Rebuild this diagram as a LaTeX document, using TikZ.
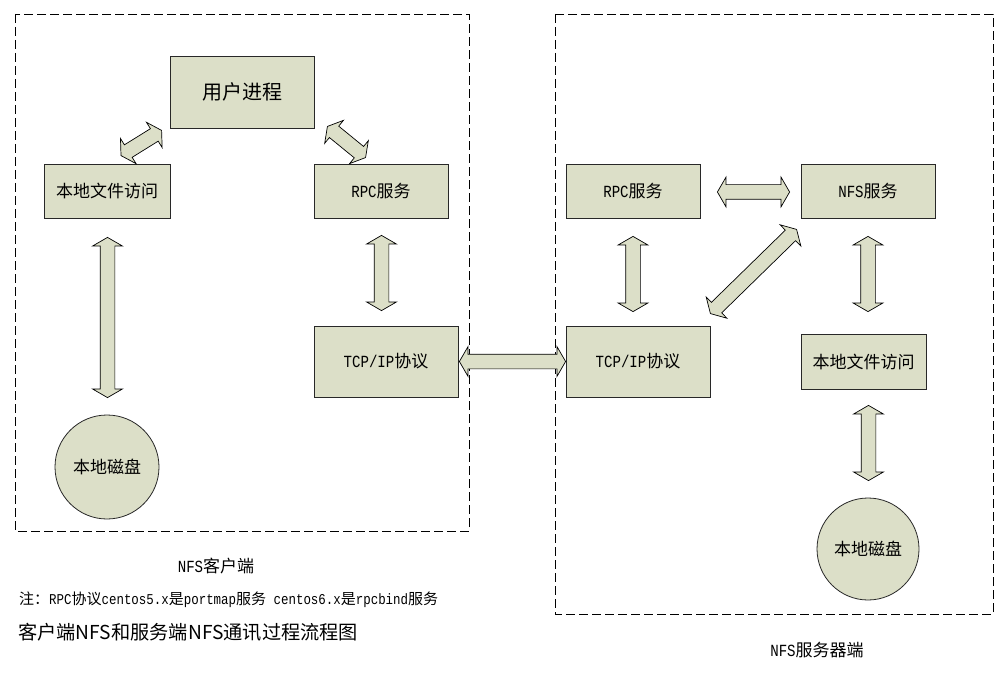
\documentclass[tikz,border=0pt]{standalone}
\usepackage{fontspec}
\setmainfont{Noto Sans CJK SC}
\newfontfamily\lat[FakeStretch=0.83]{Liberation Mono}
\usetikzlibrary{shapes.arrows,calc}
\definecolor{boxfill}{RGB}{220,223,200}
\definecolor{boxline}{RGB}{40,40,40}
\newcommand\blockarrow[2]{\path let \p1=(#1), \p2=(#2), \n1={veclen(\x2-\x1,\y2-\y1)} in (\p1) -- (\p2) node[barrow, midway, sloped, minimum height=\n1]{};}
\begin{document}
\begin{tikzpicture}[x=1pt,y=-1pt,
  box/.style={draw=boxline, fill=boxfill, line width=0.8pt, inner sep=0pt, font=\fontsize{17}{20}\selectfont},
  disk/.style={circle, draw=boxline, fill=boxfill, line width=0.8pt, inner sep=0pt, font=\fontsize{17}{20}\selectfont},
  frame/.style={draw=black, line width=0.7pt, dash pattern=on 9pt off 4pt},
  barrow/.style={double arrow, draw=black, fill=boxfill, line width=0.7pt, inner sep=0pt, text height=14pt, text depth=0pt, text width=0pt, minimum width=0pt, double arrow head extend=7.5pt, double arrow tip angle=120},
  lbl/.style={inner sep=0pt, font=\fontsize{17}{20}\selectfont},
]
\useasboundingbox[fill=white] (0,0) rectangle (1008,676);
% frames
\draw[frame] (15,14) rectangle (469,531);
\draw[frame] (555,14) rectangle (993,614);
% client nodes
\node[box, minimum width=144, minimum height=72, font=\fontsize{20}{24}\selectfont] (cu) at (242,92) {用户进程};
\node[box, minimum width=126, minimum height=54] (clfa) at (107,191) {本地文件访问};
\node[box, minimum width=134, minimum height=54] (crpc) at (381,191) {{\lat RPC}服务};
\node[box, minimum width=144, minimum height=71] (ctcp) at (386,361.5) {{\lat TCP/IP}协议};
\node[disk, minimum size=104] (cdisk) at (107,467) {本地磁盘};
% server nodes
\node[box, minimum width=134, minimum height=54] (srpc) at (633,191) {{\lat RPC}服务};
\node[box, minimum width=134, minimum height=54] (snfs) at (868,191) {{\lat NFS}服务};
\node[box, minimum width=144, minimum height=71] (stcp) at (638,361.5) {{\lat TCP/IP}协议};
\node[box, minimum width=125, minimum height=55] (slfa) at (863.5,361.5) {本地文件访问};
\node[disk, minimum size=102] (sdisk) at (868,549) {本地磁盘};
% arrows
\blockarrow{$(clfa.north)+(14,-8)$}{$(cu.south west)+(-8,2)$}
\blockarrow{$(cu.south east)+(13,-2)$}{$(crpc.north west)+(52,-6)$}
\blockarrow{$(clfa.south)+(0.5,19)$}{$(cdisk.north)+(0.5,-17)$}
\blockarrow{$(crpc.south)+(0.5,17)$}{$(ctcp.north)+(-4.5,-15)$}
\blockarrow{$(ctcp.east)+(1,0)$}{$(stcp.west)$}
\blockarrow{$(srpc.east)+(17,1)$}{$(snfs.west)+(-11,1)$}
\blockarrow{$(srpc.south)+(0,18)$}{$(stcp.north)+(-5,-14)$}
\blockarrow{$(stcp.north east)+(0,-12)$}{$(snfs.south west)+(-4,11)$}
\blockarrow{$(snfs.south)+(0,18)$}{$(slfa.north)+(4.5,-22)$}
\blockarrow{$(slfa.south)+(5,16)$}{$(sdisk.north)+(0.5,-17)$}
% labels
\node[lbl] (clabel) at (216,566) {{\lat NFS}客户端};
\node[lbl, anchor=west, font=\fontsize{15}{18}\selectfont] (note) at (19,600) {注：{\lat RPC}协议{\lat centos5.x}是{\lat portmap}服务{\lat\ centos6.x}是{\lat rpcbind}服务};
\node[lbl, anchor=west, font=\fontsize{19.2}{23}\selectfont] (title) at (18,632) {客户端NFS和服务端NFS通讯过程流程图};
\node[lbl] (slabel) at (817,650) {{\lat NFS}服务器端};
\end{tikzpicture}
\end{document}
